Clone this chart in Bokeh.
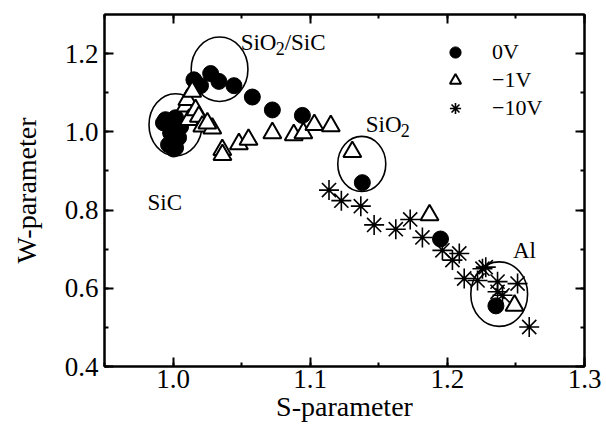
from bokeh.plotting import figure
from bokeh.models import (Range1d, LinearAxis, SingleIntervalTicker, PrintfTickFormatter,
                          Legend, LegendItem, Label)
from bokeh.embed import file_html
from bokeh.resources import INLINE

# ---- data ----
s_0v = [0.9945, 1.0018, 1.0055, 0.9982, 1.0040, 0.9967, 1.0018, 1.0004, 0.9930,
        1.0152, 1.0200, 1.0274, 1.0334, 1.0444, 1.0578, 1.0724, 1.0943,
        1.1380, 1.1950, 1.2354]
w_0v = [1.031, 1.036, 1.013, 0.997, 0.985, 0.967, 0.959, 0.956, 1.023,
        1.133, 1.118, 1.149, 1.129, 1.118, 1.089, 1.056, 1.042,
        0.870, 0.726, 0.555]

s_1v = [1.0091, 1.0104, 1.0116, 1.0164, 1.0188, 1.0213, 1.0286, 1.0250, 1.0140,
        1.0359, 1.0360, 1.0480, 1.0550, 1.0724, 1.0880, 1.0950, 1.1030, 1.1150,
        1.1307, 1.1870, 1.2490]
w_1v = [1.065, 1.082, 1.031, 1.056, 1.039, 1.014, 1.009, 1.022, 1.103,
        0.954, 0.941, 0.969, 0.980, 0.997, 0.992, 0.997, 1.018, 1.015,
        0.949, 0.787, 0.556]

s_10v = [1.1137, 1.1227, 1.1369, 1.1466, 1.1624, 1.1729, 1.1818, 1.1964, 1.2087,
         1.2037, 1.2123, 1.2220, 1.2256, 1.2280, 1.2366, 1.2366, 1.2402, 1.2512, 1.2597]
w_10v = [0.851, 0.824, 0.810, 0.762, 0.751, 0.776, 0.730, 0.697, 0.689,
         0.672, 0.625, 0.620, 0.650, 0.654, 0.617, 0.591, 0.582, 0.612, 0.501]

# ellipses marking regions
ell_x = [1.0018, 1.0339, 1.1376, 1.2378]
ell_y = [1.018, 1.160, 0.918, 0.585]
ell_w = [0.0387, 0.0414, 0.0350, 0.0414]
ell_h = [0.159, 0.165, 0.141, 0.165]

x_ticks_interval = 0.1
y_ticks_interval = 0.2

FONT = "Liberation Serif"

p = figure(width=606, height=434, output_backend="svg", toolbar_location=None,
           x_range=Range1d(0.95, 1.3), y_range=Range1d(0.4, 1.3),
           min_border_left=104, min_border_right=22, min_border_top=14, min_border_bottom=68,
           x_axis_label="S-parameter", y_axis_label="W-parameter")
p.grid.visible = False
p.outline_line_color = "black"
p.outline_line_width = 2
p.background_fill_color = "white"
p.border_fill_color = "white"

xt = SingleIntervalTicker(interval=x_ticks_interval, num_minor_ticks=2)
yt = SingleIntervalTicker(interval=y_ticks_interval, num_minor_ticks=2)

def style_axis(ax, ticker, show_labels):
    ax.ticker = ticker
    ax.formatter = PrintfTickFormatter(format="%.1f")
    ax.axis_line_width = 2
    ax.axis_line_color = "black"
    ax.major_tick_in = 9
    ax.major_tick_out = 0
    ax.minor_tick_in = 4
    ax.minor_tick_out = 0
    ax.major_tick_line_width = 2
    ax.minor_tick_line_width = 2
    ax.major_label_text_font = FONT
    ax.major_label_text_color = "black"
    ax.axis_label_text_font = FONT
    ax.axis_label_text_font_style = "normal"
    ax.axis_label_text_color = "black"
    if not show_labels:
        ax.major_label_text_color = None
        ax.major_label_text_font_size = "1px"
        ax.major_label_standoff = 0

xa = p.xaxis[0]
ya = p.yaxis[0]
style_axis(xa, xt, True)
style_axis(ya, yt, True)
xa.major_label_text_font_size = "27px"
ya.major_label_text_font_size = "27px"
xa.axis_label_text_font_size = "28px"
ya.axis_label_text_font_size = "28px"
xa.major_label_standoff = 3
ya.major_label_standoff = 6
xa.axis_label_standoff = 0
ya.axis_label_standoff = 20

top = LinearAxis()
style_axis(top, SingleIntervalTicker(interval=x_ticks_interval, num_minor_ticks=2), False)
right = LinearAxis()
style_axis(right, SingleIntervalTicker(interval=y_ticks_interval, num_minor_ticks=2), False)
p.add_layout(top, "above")
p.add_layout(right, "right")

# ellipses
p.ellipse(x=ell_x, y=ell_y, width=ell_w, height=ell_h, fill_color=None,
          line_color="black", line_width=1.6)

r0 = p.scatter(s_0v, w_0v, marker="circle", size=16, fill_color="black", line_color="black")
r1 = p.scatter(s_1v, w_1v, marker="triangle", size=18, fill_color="white",
               line_color="black", line_width=2)
r10 = p.scatter(s_10v, w_10v, marker="asterisk", size=20, line_color="black", line_width=1.6)

legend = Legend(items=[LegendItem(label="0V", renderers=[r0]),
                       LegendItem(label="\u22121V", renderers=[r1]),
                       LegendItem(label="\u221210V", renderers=[r10])],
                location=(336, 244), border_line_color=None, background_fill_alpha=0,
                padding=0, spacing=0, glyph_width=30, glyph_height=28, label_height=28,
                label_standoff=22, label_text_font=FONT, label_text_font_size="22px",
                label_text_color="black")
p.add_layout(legend)

def txt(x, y, t, size="23px", xo=0, yo=0):
    p.add_layout(Label(x=x, y=y, text=t, x_offset=xo, y_offset=yo, text_font=FONT,
                       text_font_size=size, text_color="black", text_baseline="alphabetic"))

# SiO2/SiC
txt(1.0493, 1.228, "SiO")
txt(1.0493, 1.228, "2", size="18px", xo=35, yo=-6)
txt(1.0493, 1.228, "/SiC", xo=44)
# SiO2
txt(1.1405, 1.018, "SiO")
txt(1.1405, 1.018, "2", size="18px", xo=35, yo=-6)
# SiC
txt(0.9814, 0.8205, "SiC")
# Al
txt(1.2478, 0.697, "Al")

open("out.html", "w").write(file_html(p, INLINE))
